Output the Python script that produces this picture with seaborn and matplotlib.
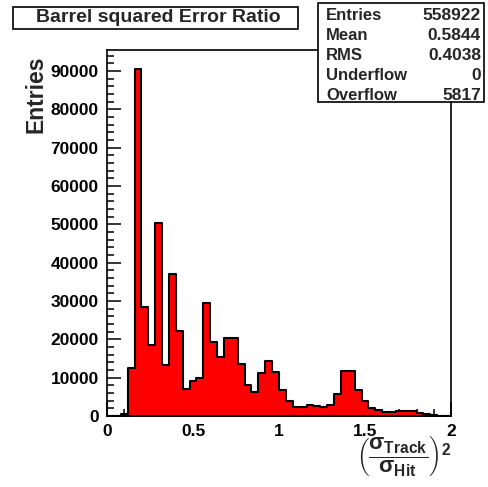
import numpy as np
import pandas as pd
import matplotlib
matplotlib.use("Agg")
import matplotlib.pyplot as plt
import seaborn as sns
from matplotlib.patches import Rectangle
from matplotlib.ticker import MultipleLocator, FuncFormatter

# ===============================
# DATA (50 bins from 0 to 2)
# ===============================
bin_edges = list(np.round(np.linspace(0, 2, 51), 2))
counts = [0, 100, 500, 12400, 90500, 28500, 18500, 50300, 13300, 37000,
          22200, 7000, 9100, 9800, 29400, 19400, 15500, 20400, 20300, 13600,
          8100, 6300, 11300, 14400, 11600, 6800, 4000, 2400, 2300, 2900,
          2700, 2400, 2900, 5700, 11700, 11700, 6800, 3900, 2000, 1600,
          1000, 1000, 1400, 1400, 1200, 700, 400, 200, 100, 50]
bin_centers = [(a + b) / 2 for a, b in zip(bin_edges[:-1], bin_edges[1:])]

stat_names = ["Entries", "Mean", "RMS", "Underflow", "Overflow"]
stat_values = ["558922", "0.5844", "0.4038", "0", "5817"]

title = "Barrel squared Error Ratio"

df = pd.DataFrame({"ratio": bin_centers, "n": counts})

# ===============================
# STYLE
# ===============================
sns.set_theme(style="white")
plt.rcParams["font.family"] = ["Liberation Sans", "DejaVu Sans"]
plt.rcParams["font.weight"] = "bold"
plt.rcParams["mathtext.fontset"] = "custom"
plt.rcParams["mathtext.rm"] = "Liberation Sans:bold"
plt.rcParams["mathtext.it"] = "Liberation Sans:bold"
plt.rcParams["mathtext.bf"] = "Liberation Sans:bold"

fig = plt.figure(figsize=(4.88, 4.87), dpi=100)
ax = fig.add_axes([107 / 488, 1 - 416 / 487, 344 / 488, 366 / 487])

# ===============================
# HISTOGRAM
# ===============================
sns.histplot(data=df, x="ratio", weights="n", bins=bin_edges, element="step",
             fill=True, color="red", alpha=1, edgecolor="black",
             linewidth=1.5, ax=ax)

ax.set_xlim(0, 2)
ax.set_ylim(0, 95500)
ax.set_ylabel("Entries", fontsize=16.5, fontweight="bold", loc="top")
ax.yaxis.set_label_coords(-0.172, 0.985)
ax.set_xlabel("")

ax.xaxis.set_major_locator(MultipleLocator(0.5))
ax.xaxis.set_minor_locator(MultipleLocator(0.1))
ax.yaxis.set_major_locator(MultipleLocator(10000))
ax.yaxis.set_minor_locator(MultipleLocator(2000))
ax.xaxis.set_major_formatter(FuncFormatter(lambda v, p: "%g" % v))
ax.yaxis.set_major_formatter(FuncFormatter(lambda v, p: "%d" % v))

ax.tick_params(which="both", direction="in", top=False, right=False,
               left=True, bottom=True, colors="black", width=1.1)
ax.tick_params(which="major", length=10, labelsize=12.5, pad=6)
ax.tick_params(which="minor", length=5)
for lab in ax.get_xticklabels() + ax.get_yticklabels():
    lab.set_fontweight("bold")
for sp in ax.spines.values():
    sp.set_color("black")
    sp.set_linewidth(1.2)
ax.grid(False)

# x label: (sigma_Track / sigma_Hit)^2
fig.text(404 / 488, 1 - 456 / 487,
         r"$\left(\dfrac{\sigma_{Track}}{\sigma_{Hit}}\right)^{2}$",
         fontsize=16, ha="center", va="center")

# ===============================
# TITLE BOX
# ===============================
fig.patches.append(Rectangle((13 / 488, 1 - 29 / 487), 285 / 488, 22 / 487,
                             transform=fig.transFigure, facecolor="white",
                             edgecolor="black", linewidth=1.2))
fig.text(158 / 488, 1 - 18 / 487, title, fontsize=14, fontweight="bold",
         ha="center", va="center")

# ===============================
# STATS BOX
# ===============================
fig.patches.append(Rectangle((318 / 488, 1 - 102 / 487), 166 / 488, 99 / 487,
                             transform=fig.transFigure, facecolor="white",
                             edgecolor="black", linewidth=1.2))
for i, (name, val) in enumerate(zip(stat_names, stat_values)):
    y = 1 - (15 + 20 * i) / 487
    fig.text(326 / 488, y, name, fontsize=12, fontweight="bold",
             ha="left", va="center")
    fig.text(481 / 488, y, val, fontsize=12.5, fontweight="bold",
             ha="right", va="center")

fig.savefig("out.png", dpi=100)
